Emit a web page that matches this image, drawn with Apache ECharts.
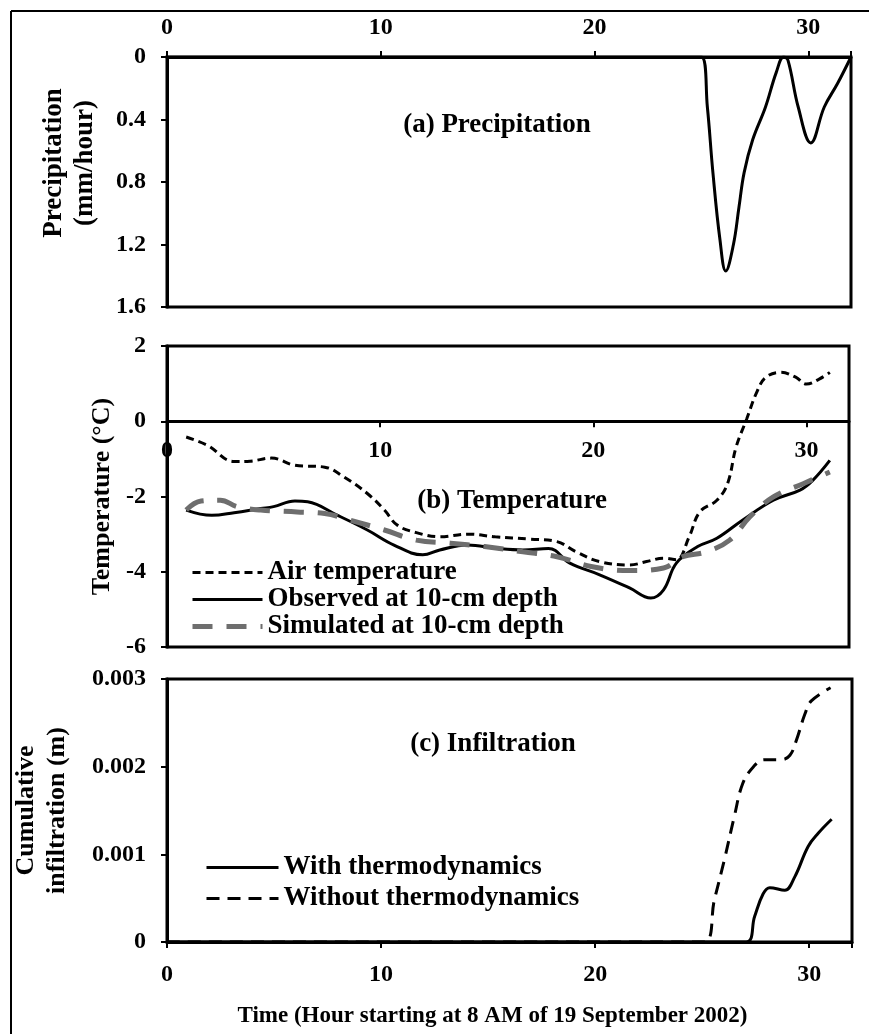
<!DOCTYPE html>
<html>
<head>
<meta charset="utf-8">
<title>Precipitation, temperature and infiltration</title>
<script src="https://cdn.jsdelivr.net/npm/echarts@6/dist/echarts.min.js"></script>
<style>
  html, body { margin: 0; padding: 0; background: #fff; }
  #chart { width: 869px; height: 1034px; }
</style>
</head>
<body>
<div id="chart"></div>
<script>
// hour since 8 AM, 19 Sep 2002  -> value
var precip = [[0,0],[25,0],[25.28,0.32],[25.54,0.74],[25.87,1.17],[26.14,1.37],[26.5,1.2],[26.76,0.96],[27.0,0.74],[27.4,0.53],
  [28.0,0.32],[28.5,0.1],[28.85,0],[29.05,0.02],[29.53,0.32],[30.12,0.55],[30.75,0.32],[31.37,0.17],[32,0]];

var airTemp = [[0.9,-0.42],[1.9,-0.64],[3.15,-1.07],[3.9,-1.06],[4.9,-0.98],[6.0,-1.17],[7.4,-1.22],[8.3,-1.48],[9.4,-1.92],
  [10.2,-2.36],[10.8,-2.76],[11.7,-2.96],[12.8,-3.07],[14.1,-3.0],[15.4,-3.07],[17.0,-3.13],[18.3,-3.2],[19.2,-3.47],
  [20.3,-3.73],[21.7,-3.82],[22.5,-3.73],[23.3,-3.64],[23.9,-3.68],[24.5,-3.07],[25.0,-2.41],[25.8,-2.1],[26.3,-1.66],
  [26.7,-0.69],[27.2,0.06],[27.7,0.81],[28.1,1.17],[28.8,1.3],[29.5,1.17],[30.0,0.99],[30.6,1.12],[31.1,1.3]];

var observed = [[0.9,-2.36],[2.1,-2.5],[3.15,-2.43],[4.4,-2.32],[5.0,-2.27],[6.0,-2.12],[6.6,-2.14],[8.0,-2.5],[9.4,-2.89],
  [10.65,-3.29],[12.0,-3.55],[12.8,-3.42],[14.1,-3.29],[15.5,-3.38],[16.7,-3.42],[17.9,-3.38],[18.9,-3.77],[20.3,-4.08],
  [21.7,-4.43],[22.7,-4.7],[23.3,-4.48],[23.9,-3.77],[24.9,-3.33],[25.8,-3.11],[27.0,-2.63],[28.45,-2.1],[29.7,-1.83],
  [30.3,-1.57],[31.1,-1.04]];

var simulated = [[0.9,-2.36],[1.6,-2.12],[2.5,-2.1],[3.3,-2.27],[4.4,-2.36],[6.1,-2.41],[7.4,-2.45],[8.6,-2.63],[10.2,-2.89],
  [11.7,-3.16],[13.3,-3.24],[14.9,-3.33],[16.7,-3.47],[18.3,-3.6],[19.9,-3.86],[21.7,-3.97],[23.3,-3.9],[24.2,-3.6],
  [25.3,-3.47],[26.4,-3.16],[27.35,-2.54],[28.45,-2.01],[29.85,-1.66],[31.1,-1.35]];

var infilWith = [[0,0],[27.05,0],[27.45,0.00029],[27.85,0.00055],[28.16,0.00062],[28.86,0.00059],[29.32,0.00074],
  [29.95,0.00109],[30.42,0.00124],[31.05,0.0014]];

var infilWithout = [[0,0],[25.1,0],[25.57,0.00048],[26.04,0.00094],[26.5,0.00143],[26.9,0.00181],[27.4,0.002],[27.9,0.00208],
  [28.7,0.00208],[29.1,0.00213],[29.4,0.0023],[29.8,0.0026],[30.1,0.00275],[31.0,0.0029]];

var FONT = 'Liberation Serif';
var txt = function (size) {
  return { fontFamily: FONT, fontWeight: 'bold', fontSize: size, color: '#000' };
};

function xAx(grid, pos, margin, extra) {
  var a = {
    type: 'value', gridIndex: grid, position: pos, min: 0, max: 32, interval: 10,
    axisLine: { show: true, onZero: false, lineStyle: { color: '#000', width: 3 } },
    axisTick: { show: true, length: 6, lineStyle: { color: '#000', width: 2 } },
    axisLabel: Object.assign(txt(24), { margin: margin, formatter: function (v) { return v % 10 === 0 ? String(v) : ''; } }),
    splitLine: { show: false }
  };
  return Object.assign(a, extra || {});
}

function yAx(grid, min, max, step, fmt, extra) {
  var a = {
    type: 'value', gridIndex: grid, min: min, max: max, interval: step,
    axisLine: { show: true, onZero: false, lineStyle: { color: '#000', width: 3 } },
    axisTick: { show: true, length: 6, lineStyle: { color: '#000', width: 2 } },
    axisLabel: Object.assign(txt(24), { margin: 21, formatter: fmt }),
    splitLine: { show: false },
    nameLocation: 'middle', nameTextStyle: txt(26)
  };
  return Object.assign(a, extra || {});
}

var chart = echarts.init(document.getElementById('chart'));

chart.setOption({
  backgroundColor: '#fff',
  animation: false,
  grid: [
    { left: 167, top: 57, right: 18, height: 250, show: true, borderColor: '#000', borderWidth: 3 },
    { left: 167, top: 346, right: 20, height: 301, show: true, borderColor: '#000', borderWidth: 3 },
    { left: 167, top: 679, right: 17, height: 263, show: true, borderColor: '#000', borderWidth: 3 }
  ],
  title: [
    { text: '(a) Precipitation', left: 497, top: 112, textAlign: 'center', padding: 0, textStyle: txt(27) },
    { text: '(b) Temperature', left: 512, top: 488, textAlign: 'center', padding: 0, textStyle: txt(27) },
    { text: '(c) Infiltration', left: 493, top: 731, textAlign: 'center', padding: 0, textStyle: txt(27) }
  ],
  legend: [
    {
      data: ['Air temperature', 'Observed at 10-cm depth', 'Simulated at 10-cm depth'],
      orient: 'vertical', left: 190, top: 559, itemWidth: 70, itemHeight: 14, itemGap: 0, padding: 0,
      itemStyle: { opacity: 0 }, lineStyle: { width: 'inherit' }, textStyle: txt(27), selectedMode: false
    },
    {
      data: ['With thermodynamics', 'Without thermodynamics'],
      orient: 'vertical', left: 205, top: 854, itemWidth: 72, itemHeight: 14, itemGap: 4, padding: 0,
      itemStyle: { opacity: 0 }, lineStyle: { width: 'inherit' }, textStyle: txt(27), selectedMode: false
    }
  ],
  xAxis: [
    xAx(0, 'top', 17),
    // temperature axis sits on the 0 °C line
    xAx(1, 'bottom', 18, { offset: -225.75 }),
    xAx(2, 'bottom', 21, {
      name: 'Time (Hour starting at 8 AM of 19 September 2002)', nameLocation: 'middle', nameGap: 63,
      nameTextStyle: Object.assign(txt(23), { padding: [0, 34, 0, 0] })
    })
  ],
  yAxis: [
    yAx(0, 0, 1.6, 0.4, function (v) { return String(+v.toFixed(1)); }, {
      inverse: true, name: 'Precipitation\n(mm/hour)', nameGap: 66,
      nameTextStyle: Object.assign(txt(27), { lineHeight: 31, padding: [0, 0, 0, 38] })
    }),
    yAx(1, -6, 2, 2, function (v) { return String(v); }, { name: 'Temperature (°C)', nameGap: 50 }),
    yAx(2, 0, 0.003, 0.001, function (v) { return v === 0 ? '0' : v.toFixed(3); }, {
      name: 'Cumulative\ninfiltration (m)', nameGap: 94,
      nameTextStyle: Object.assign(txt(26), { lineHeight: 31 })
    })
  ],
  series: [
    { name: 'Precipitation', type: 'line', xAxisIndex: 0, yAxisIndex: 0, data: precip, smooth: 0.4,
      symbol: 'none', lineStyle: { color: '#000', width: 3 } },
    { name: 'Air temperature', type: 'line', xAxisIndex: 1, yAxisIndex: 1, data: airTemp, smooth: 0.4,
      symbol: 'none', itemStyle: { color: '#000' }, lineStyle: { color: '#000', width: 3, type: [8, 5] } },
    { name: 'Observed at 10-cm depth', type: 'line', xAxisIndex: 1, yAxisIndex: 1, data: observed, smooth: 0.4,
      symbol: 'none', itemStyle: { color: '#000' }, lineStyle: { color: '#000', width: 3 } },
    { name: 'Simulated at 10-cm depth', type: 'line', xAxisIndex: 1, yAxisIndex: 1, data: simulated, smooth: 0.4,
      symbol: 'none', itemStyle: { color: '#6e6e6e' }, lineStyle: { color: '#6e6e6e', width: 5, type: [20, 14] } },
    { name: 'With thermodynamics', type: 'line', xAxisIndex: 2, yAxisIndex: 2, data: infilWith, smooth: 0.4,
      symbol: 'none', itemStyle: { color: '#000' }, lineStyle: { color: '#000', width: 3 } },
    { name: 'Without thermodynamics', type: 'line', xAxisIndex: 2, yAxisIndex: 2, data: infilWithout, smooth: 0.4,
      symbol: 'none', itemStyle: { color: '#000' }, lineStyle: { color: '#000', width: 3, type: [13, 8] } }
  ],
  graphic: [
    { type: 'line', shape: { x1: 11, y1: 11, x2: 869, y2: 11 }, style: { stroke: '#000', lineWidth: 2 } },
    { type: 'line', shape: { x1: 11, y1: 11, x2: 11, y2: 1034 }, style: { stroke: '#000', lineWidth: 2 } }
  ]
});
</script>
</body>
</html>
